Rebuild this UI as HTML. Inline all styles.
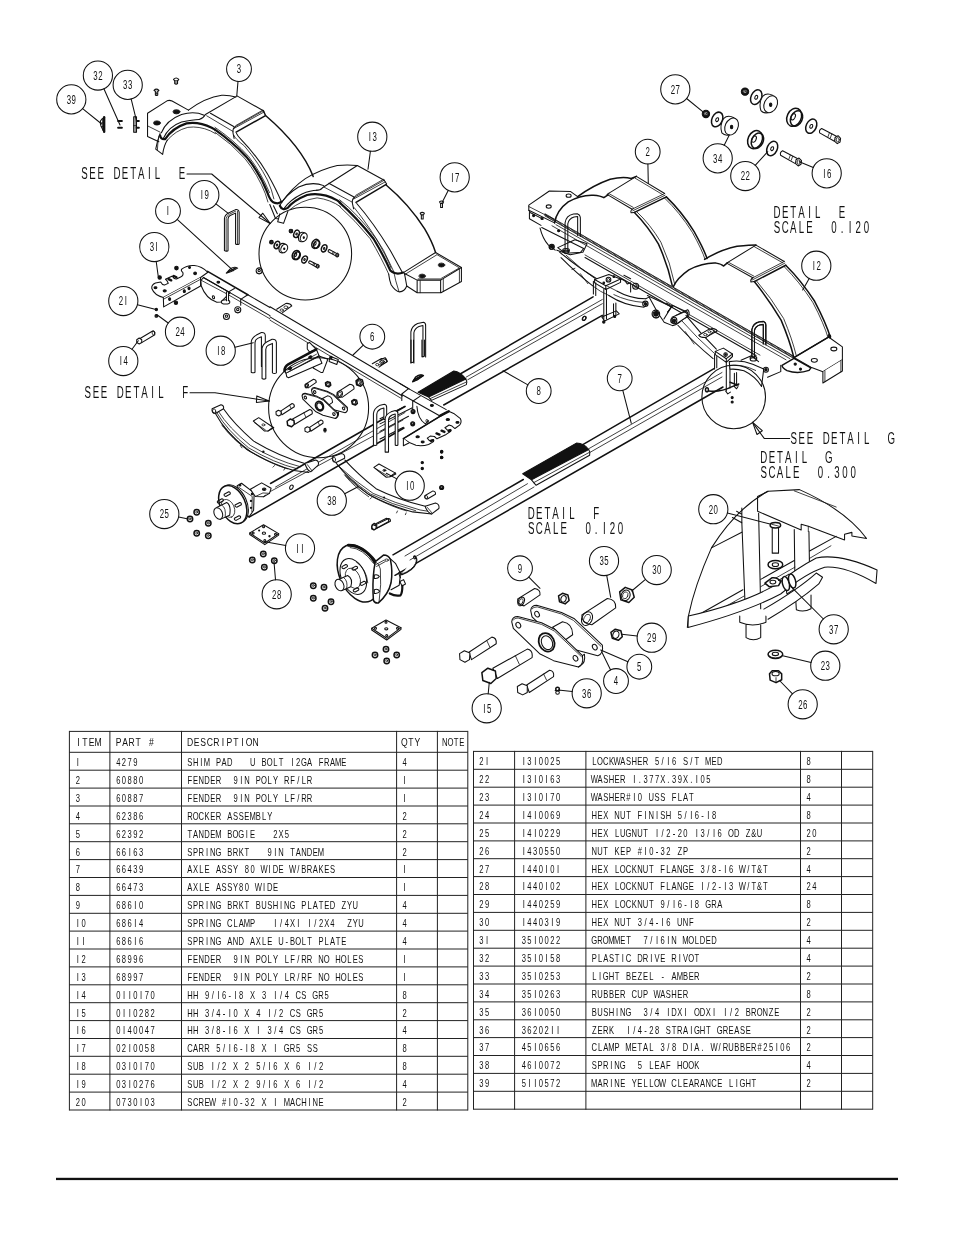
<!DOCTYPE html>
<html><head><meta charset="utf-8"><title>Tandem axle parts</title>
<style>
html,body{margin:0;padding:0;background:#fff}
body{width:954px;height:1235px;overflow:hidden}
svg{display:block;will-change:transform;font-family:"Liberation Sans",sans-serif}
svg text{text-anchor:middle}
.d path,.d circle,.d ellipse,.d line,.d polyline,.d polygon,.d rect{fill:none;stroke:#111;stroke-width:1.05;stroke-linejoin:round;stroke-linecap:round;vector-effect:non-scaling-stroke}
.d .w{fill:#fff}
.d .k{fill:#111}
.d .t{stroke-width:.8}
.d .b{stroke-width:1.5}
</style></head><body>
<svg width="954" height="1235" viewBox="0 0 954 1235">
<rect width="954" height="1235" fill="#fff"/>
<path d="M69.4 730.9L69.4 1110.5" stroke="#222" stroke-width="1.00"/>
<path d="M109.9 730.9L109.9 1110.5" stroke="#222" stroke-width="1.00"/>
<path d="M181.5 730.9L181.5 1110.5" stroke="#222" stroke-width="1.00"/>
<path d="M396.6 730.9L396.6 1110.5" stroke="#222" stroke-width="1.00"/>
<path d="M437.4 730.9L437.4 1110.5" stroke="#222" stroke-width="1.00"/>
<path d="M467.8 730.9L467.8 1110.5" stroke="#222" stroke-width="1.00"/>
<path d="M69.4 731.4L467.8 731.4" stroke="#222" stroke-width="1.00"/>
<path d="M69.4 752.3L467.8 752.3" stroke="#222" stroke-width="1.00"/>
<path d="M69.4 770.2L467.8 770.2" stroke="#222" stroke-width="1.00"/>
<path d="M69.4 788.1L467.8 788.1" stroke="#222" stroke-width="1.00"/>
<path d="M69.4 806.0L467.8 806.0" stroke="#222" stroke-width="1.00"/>
<path d="M69.4 823.8L467.8 823.8" stroke="#222" stroke-width="1.00"/>
<path d="M69.4 841.7L467.8 841.7" stroke="#222" stroke-width="1.00"/>
<path d="M69.4 859.6L467.8 859.6" stroke="#222" stroke-width="1.00"/>
<path d="M69.4 877.5L467.8 877.5" stroke="#222" stroke-width="1.00"/>
<path d="M69.4 895.4L467.8 895.4" stroke="#222" stroke-width="1.00"/>
<path d="M69.4 913.3L467.8 913.3" stroke="#222" stroke-width="1.00"/>
<path d="M69.4 931.1L467.8 931.1" stroke="#222" stroke-width="1.00"/>
<path d="M69.4 949.0L467.8 949.0" stroke="#222" stroke-width="1.00"/>
<path d="M69.4 966.9L467.8 966.9" stroke="#222" stroke-width="1.00"/>
<path d="M69.4 984.8L467.8 984.8" stroke="#222" stroke-width="1.00"/>
<path d="M69.4 1002.7L467.8 1002.7" stroke="#222" stroke-width="1.00"/>
<path d="M69.4 1020.6L467.8 1020.6" stroke="#222" stroke-width="1.00"/>
<path d="M69.4 1038.5L467.8 1038.5" stroke="#222" stroke-width="1.00"/>
<path d="M69.4 1056.3L467.8 1056.3" stroke="#222" stroke-width="1.00"/>
<path d="M69.4 1074.2L467.8 1074.2" stroke="#222" stroke-width="1.00"/>
<path d="M69.4 1092.1L467.8 1092.1" stroke="#222" stroke-width="1.00"/>
<path d="M69.4 1110.0L467.8 1110.0" stroke="#222" stroke-width="1.00"/>
<text transform="translate(0 746.3) scale(0.735 1)" font-size="11.7" x="106.7 115.6 124.5 133.4" fill="#111">ITEM</text>
<text transform="translate(0 746.3) scale(0.735 1)" font-size="11.7" x="161.4 170.3 179.2 188.1 205.9" fill="#111">PART#</text>
<text transform="translate(0 746.3) scale(0.735 1)" font-size="11.7" x="258.6 267.6 276.5 285.4 294.3 303.2 312.1 321.0 329.9 338.8 347.8" fill="#111">DESCRIPTION</text>
<text transform="translate(0 746.3) scale(0.735 1)" font-size="11.7" x="550.2 559.1 568.0" fill="#111">QTY</text>
<text transform="translate(0 746.3) scale(0.660 1)" font-size="11.7" x="674.1 682.7 691.2 699.8" fill="#111">NOTE</text>
<text transform="translate(0 766.1) scale(0.745 1)" font-size="10.2" x="104.4" fill="#111">I</text>
<text transform="translate(0 766.1) scale(0.745 1)" font-size="10.2" x="158.8 166.4 174.1 181.7" fill="#111">4279</text>
<text transform="translate(0 766.1) scale(0.745 1)" font-size="10.2" x="254.9 262.6 270.2 277.9 293.2 300.8 308.5 339.1 354.4 362.0 369.7 377.3 392.6 400.3 407.9 415.6 430.9 438.5 446.2 453.8 461.5" fill="#111">SHIMPADUBOLTI2GAFRAME</text>
<text transform="translate(0 766.1) scale(0.745 1)" font-size="10.2" x="543.1" fill="#111">4</text>
<text transform="translate(0 784.0) scale(0.745 1)" font-size="10.2" x="104.4" fill="#111">2</text>
<text transform="translate(0 784.0) scale(0.745 1)" font-size="10.2" x="158.8 166.4 174.1 181.7 189.4" fill="#111">60880</text>
<text transform="translate(0 784.0) scale(0.745 1)" font-size="10.2" x="254.9 262.6 270.2 277.9 285.5 293.2 316.1 323.8 331.4 346.7 354.4 362.0 369.7 385.0 392.6 400.3 407.9 415.6" fill="#111">FENDER9INPOLYRF/LR</text>
<text transform="translate(0 784.0) scale(0.745 1)" font-size="10.2" x="543.1" fill="#111">I</text>
<text transform="translate(0 801.9) scale(0.745 1)" font-size="10.2" x="104.4" fill="#111">3</text>
<text transform="translate(0 801.9) scale(0.745 1)" font-size="10.2" x="158.8 166.4 174.1 181.7 189.4" fill="#111">60887</text>
<text transform="translate(0 801.9) scale(0.745 1)" font-size="10.2" x="254.9 262.6 270.2 277.9 285.5 293.2 316.1 323.8 331.4 346.7 354.4 362.0 369.7 385.0 392.6 400.3 407.9 415.6" fill="#111">FENDER9INPOLYLF/RR</text>
<text transform="translate(0 801.9) scale(0.745 1)" font-size="10.2" x="543.1" fill="#111">I</text>
<text transform="translate(0 819.8) scale(0.745 1)" font-size="10.2" x="104.4" fill="#111">4</text>
<text transform="translate(0 819.8) scale(0.745 1)" font-size="10.2" x="158.8 166.4 174.1 181.7 189.4" fill="#111">62386</text>
<text transform="translate(0 819.8) scale(0.745 1)" font-size="10.2" x="254.9 262.6 270.2 277.9 285.5 293.2 308.5 316.1 323.8 331.4 339.1 346.7 354.4 362.0" fill="#111">ROCKERASSEMBLY</text>
<text transform="translate(0 819.8) scale(0.745 1)" font-size="10.2" x="543.1" fill="#111">2</text>
<text transform="translate(0 837.6) scale(0.745 1)" font-size="10.2" x="104.4" fill="#111">5</text>
<text transform="translate(0 837.6) scale(0.745 1)" font-size="10.2" x="158.8 166.4 174.1 181.7 189.4" fill="#111">62392</text>
<text transform="translate(0 837.6) scale(0.745 1)" font-size="10.2" x="254.9 262.6 270.2 277.9 285.5 293.2 308.5 316.1 323.8 331.4 339.1 369.7 377.3 385.0" fill="#111">TANDEMBOGIE2X5</text>
<text transform="translate(0 837.6) scale(0.745 1)" font-size="10.2" x="543.1" fill="#111">2</text>
<text transform="translate(0 855.5) scale(0.745 1)" font-size="10.2" x="104.4" fill="#111">6</text>
<text transform="translate(0 855.5) scale(0.745 1)" font-size="10.2" x="158.8 166.4 174.1 181.7 189.4" fill="#111">66I63</text>
<text transform="translate(0 855.5) scale(0.745 1)" font-size="10.2" x="254.9 262.6 270.2 277.9 285.5 293.2 308.5 316.1 323.8 331.4 362.0 369.7 377.3 392.6 400.3 407.9 415.6 423.2 430.9" fill="#111">SPRINGBRKT9INTANDEM</text>
<text transform="translate(0 855.5) scale(0.745 1)" font-size="10.2" x="543.1" fill="#111">2</text>
<text transform="translate(0 873.4) scale(0.745 1)" font-size="10.2" x="104.4" fill="#111">7</text>
<text transform="translate(0 873.4) scale(0.745 1)" font-size="10.2" x="158.8 166.4 174.1 181.7 189.4" fill="#111">66439</text>
<text transform="translate(0 873.4) scale(0.745 1)" font-size="10.2" x="254.9 262.6 270.2 277.9 293.2 300.8 308.5 316.1 331.4 339.1 354.4 362.0 369.7 377.3 392.6 400.3 407.9 415.6 423.2 430.9 438.5 446.2" fill="#111">AXLEASSY80WIDEW/BRAKES</text>
<text transform="translate(0 873.4) scale(0.745 1)" font-size="10.2" x="543.1" fill="#111">I</text>
<text transform="translate(0 891.3) scale(0.745 1)" font-size="10.2" x="104.4" fill="#111">8</text>
<text transform="translate(0 891.3) scale(0.745 1)" font-size="10.2" x="158.8 166.4 174.1 181.7 189.4" fill="#111">66473</text>
<text transform="translate(0 891.3) scale(0.745 1)" font-size="10.2" x="254.9 262.6 270.2 277.9 293.2 300.8 308.5 316.1 323.8 331.4 346.7 354.4 362.0 369.7" fill="#111">AXLEASSY80WIDE</text>
<text transform="translate(0 891.3) scale(0.745 1)" font-size="10.2" x="543.1" fill="#111">I</text>
<text transform="translate(0 909.2) scale(0.745 1)" font-size="10.2" x="104.4" fill="#111">9</text>
<text transform="translate(0 909.2) scale(0.745 1)" font-size="10.2" x="158.8 166.4 174.1 181.7 189.4" fill="#111">686I0</text>
<text transform="translate(0 909.2) scale(0.745 1)" font-size="10.2" x="254.9 262.6 270.2 277.9 285.5 293.2 308.5 316.1 323.8 331.4 346.7 354.4 362.0 369.7 377.3 385.0 392.6 407.9 415.6 423.2 430.9 438.5 446.2 461.5 469.1 476.8" fill="#111">SPRINGBRKTBUSHINGPLATEDZYU</text>
<text transform="translate(0 909.2) scale(0.745 1)" font-size="10.2" x="543.1" fill="#111">4</text>
<text transform="translate(0 927.1) scale(0.745 1)" font-size="10.2" x="104.4 112.1" fill="#111">I0</text>
<text transform="translate(0 927.1) scale(0.745 1)" font-size="10.2" x="158.8 166.4 174.1 181.7 189.4" fill="#111">686I4</text>
<text transform="translate(0 927.1) scale(0.745 1)" font-size="10.2" x="254.9 262.6 270.2 277.9 285.5 293.2 308.5 316.1 323.8 331.4 339.1 369.7 377.3 385.0 392.6 400.3 415.6 423.2 430.9 438.5 446.2 469.1 476.8 484.4" fill="#111">SPRINGCLAMPI/4XII/2X4ZYU</text>
<text transform="translate(0 927.1) scale(0.745 1)" font-size="10.2" x="543.1" fill="#111">4</text>
<text transform="translate(0 944.9) scale(0.745 1)" font-size="10.2" x="104.4 112.1" fill="#111">II</text>
<text transform="translate(0 944.9) scale(0.745 1)" font-size="10.2" x="158.8 166.4 174.1 181.7 189.4" fill="#111">686I6</text>
<text transform="translate(0 944.9) scale(0.745 1)" font-size="10.2" x="254.9 262.6 270.2 277.9 285.5 293.2 308.5 316.1 323.8 339.1 346.7 354.4 362.0 377.3 385.0 392.6 400.3 407.9 415.6 430.9 438.5 446.2 453.8 461.5" fill="#111">SPRINGANDAXLEU-BOLTPLATE</text>
<text transform="translate(0 944.9) scale(0.745 1)" font-size="10.2" x="543.1" fill="#111">4</text>
<text transform="translate(0 962.8) scale(0.745 1)" font-size="10.2" x="104.4 112.1" fill="#111">I2</text>
<text transform="translate(0 962.8) scale(0.745 1)" font-size="10.2" x="158.8 166.4 174.1 181.7 189.4" fill="#111">68996</text>
<text transform="translate(0 962.8) scale(0.745 1)" font-size="10.2" x="254.9 262.6 270.2 277.9 285.5 293.2 316.1 323.8 331.4 346.7 354.4 362.0 369.7 385.0 392.6 400.3 407.9 415.6 430.9 438.5 453.8 461.5 469.1 476.8 484.4" fill="#111">FENDER9INPOLYLF/RRNOHOLES</text>
<text transform="translate(0 962.8) scale(0.745 1)" font-size="10.2" x="543.1" fill="#111">I</text>
<text transform="translate(0 980.7) scale(0.745 1)" font-size="10.2" x="104.4 112.1" fill="#111">I3</text>
<text transform="translate(0 980.7) scale(0.745 1)" font-size="10.2" x="158.8 166.4 174.1 181.7 189.4" fill="#111">68997</text>
<text transform="translate(0 980.7) scale(0.745 1)" font-size="10.2" x="254.9 262.6 270.2 277.9 285.5 293.2 316.1 323.8 331.4 346.7 354.4 362.0 369.7 385.0 392.6 400.3 407.9 415.6 430.9 438.5 453.8 461.5 469.1 476.8 484.4" fill="#111">FENDER9INPOLYLR/RFNOHOLES</text>
<text transform="translate(0 980.7) scale(0.745 1)" font-size="10.2" x="543.1" fill="#111">I</text>
<text transform="translate(0 998.6) scale(0.745 1)" font-size="10.2" x="104.4 112.1" fill="#111">I4</text>
<text transform="translate(0 998.6) scale(0.745 1)" font-size="10.2" x="158.8 166.4 174.1 181.7 189.4 197.0 204.7" fill="#111">0II0I70</text>
<text transform="translate(0 998.6) scale(0.745 1)" font-size="10.2" x="254.9 262.6 277.9 285.5 293.2 300.8 308.5 316.1 323.8 339.1 354.4 369.7 377.3 385.0 400.3 407.9 423.2 430.9 438.5" fill="#111">HH9/I6-I8X3I/4CSGR5</text>
<text transform="translate(0 998.6) scale(0.745 1)" font-size="10.2" x="543.1" fill="#111">8</text>
<text transform="translate(0 1016.5) scale(0.745 1)" font-size="10.2" x="104.4 112.1" fill="#111">I5</text>
<text transform="translate(0 1016.5) scale(0.745 1)" font-size="10.2" x="158.8 166.4 174.1 181.7 189.4 197.0 204.7" fill="#111">0II0282</text>
<text transform="translate(0 1016.5) scale(0.745 1)" font-size="10.2" x="254.9 262.6 277.9 285.5 293.2 300.8 308.5 316.1 331.4 346.7 362.0 369.7 377.3 392.6 400.3 415.6 423.2 430.9" fill="#111">HH3/4-I0X4I/2CSGR5</text>
<text transform="translate(0 1016.5) scale(0.745 1)" font-size="10.2" x="543.1" fill="#111">2</text>
<text transform="translate(0 1034.4) scale(0.745 1)" font-size="10.2" x="104.4 112.1" fill="#111">I6</text>
<text transform="translate(0 1034.4) scale(0.745 1)" font-size="10.2" x="158.8 166.4 174.1 181.7 189.4 197.0 204.7" fill="#111">0I40047</text>
<text transform="translate(0 1034.4) scale(0.745 1)" font-size="10.2" x="254.9 262.6 277.9 285.5 293.2 300.8 308.5 316.1 331.4 346.7 362.0 369.7 377.3 392.6 400.3 415.6 423.2 430.9" fill="#111">HH3/8-I6XI3/4CSGR5</text>
<text transform="translate(0 1034.4) scale(0.745 1)" font-size="10.2" x="543.1" fill="#111">4</text>
<text transform="translate(0 1052.3) scale(0.745 1)" font-size="10.2" x="104.4 112.1" fill="#111">I7</text>
<text transform="translate(0 1052.3) scale(0.745 1)" font-size="10.2" x="158.8 166.4 174.1 181.7 189.4 197.0 204.7" fill="#111">02I0058</text>
<text transform="translate(0 1052.3) scale(0.745 1)" font-size="10.2" x="254.9 262.6 270.2 277.9 293.2 300.8 308.5 316.1 323.8 331.4 339.1 354.4 369.7 385.0 392.6 400.3 415.6 423.2" fill="#111">CARR5/I6-I8XIGR5SS</text>
<text transform="translate(0 1052.3) scale(0.745 1)" font-size="10.2" x="543.1" fill="#111">8</text>
<text transform="translate(0 1070.1) scale(0.745 1)" font-size="10.2" x="104.4 112.1" fill="#111">I8</text>
<text transform="translate(0 1070.1) scale(0.745 1)" font-size="10.2" x="158.8 166.4 174.1 181.7 189.4 197.0 204.7" fill="#111">03I0I70</text>
<text transform="translate(0 1070.1) scale(0.745 1)" font-size="10.2" x="254.9 262.6 270.2 285.5 293.2 300.8 316.1 331.4 346.7 354.4 362.0 369.7 385.0 400.3 415.6 423.2 430.9" fill="#111">SUBI/2X25/I6X6I/2</text>
<text transform="translate(0 1070.1) scale(0.745 1)" font-size="10.2" x="543.1" fill="#111">8</text>
<text transform="translate(0 1088.0) scale(0.745 1)" font-size="10.2" x="104.4 112.1" fill="#111">I9</text>
<text transform="translate(0 1088.0) scale(0.745 1)" font-size="10.2" x="158.8 166.4 174.1 181.7 189.4 197.0 204.7" fill="#111">03I0276</text>
<text transform="translate(0 1088.0) scale(0.745 1)" font-size="10.2" x="254.9 262.6 270.2 285.5 293.2 300.8 316.1 331.4 346.7 354.4 362.0 369.7 385.0 400.3 415.6 423.2 430.9" fill="#111">SUBI/2X29/I6X6I/2</text>
<text transform="translate(0 1088.0) scale(0.745 1)" font-size="10.2" x="543.1" fill="#111">4</text>
<text transform="translate(0 1105.9) scale(0.745 1)" font-size="10.2" x="104.4 112.1" fill="#111">20</text>
<text transform="translate(0 1105.9) scale(0.745 1)" font-size="10.2" x="158.8 166.4 174.1 181.7 189.4 197.0 204.7" fill="#111">0730I03</text>
<text transform="translate(0 1105.9) scale(0.745 1)" font-size="10.2" x="254.9 262.6 270.2 277.9 285.5 300.8 308.5 316.1 323.8 331.4 339.1 354.4 369.7 385.0 392.6 400.3 407.9 415.6 423.2 430.9" fill="#111">SCREW#I0-32XIMACHINE</text>
<text transform="translate(0 1105.9) scale(0.745 1)" font-size="10.2" x="543.1" fill="#111">2</text>
<path d="M473.5 750.9L473.5 1109.7" stroke="#222" stroke-width="1.00"/>
<path d="M514.6 750.9L514.6 1109.7" stroke="#222" stroke-width="1.00"/>
<path d="M585.9 750.9L585.9 1109.7" stroke="#222" stroke-width="1.00"/>
<path d="M800.5 750.9L800.5 1109.7" stroke="#222" stroke-width="1.00"/>
<path d="M841.5 750.9L841.5 1109.7" stroke="#222" stroke-width="1.00"/>
<path d="M872.7 750.9L872.7 1109.7" stroke="#222" stroke-width="1.00"/>
<path d="M473.5 751.4L872.7 751.4" stroke="#222" stroke-width="1.00"/>
<path d="M473.5 769.3L872.7 769.3" stroke="#222" stroke-width="1.00"/>
<path d="M473.5 787.2L872.7 787.2" stroke="#222" stroke-width="1.00"/>
<path d="M473.5 805.1L872.7 805.1" stroke="#222" stroke-width="1.00"/>
<path d="M473.5 823.0L872.7 823.0" stroke="#222" stroke-width="1.00"/>
<path d="M473.5 840.9L872.7 840.9" stroke="#222" stroke-width="1.00"/>
<path d="M473.5 858.7L872.7 858.7" stroke="#222" stroke-width="1.00"/>
<path d="M473.5 876.6L872.7 876.6" stroke="#222" stroke-width="1.00"/>
<path d="M473.5 894.5L872.7 894.5" stroke="#222" stroke-width="1.00"/>
<path d="M473.5 912.4L872.7 912.4" stroke="#222" stroke-width="1.00"/>
<path d="M473.5 930.3L872.7 930.3" stroke="#222" stroke-width="1.00"/>
<path d="M473.5 948.2L872.7 948.2" stroke="#222" stroke-width="1.00"/>
<path d="M473.5 966.1L872.7 966.1" stroke="#222" stroke-width="1.00"/>
<path d="M473.5 984.0L872.7 984.0" stroke="#222" stroke-width="1.00"/>
<path d="M473.5 1001.9L872.7 1001.9" stroke="#222" stroke-width="1.00"/>
<path d="M473.5 1019.8L872.7 1019.8" stroke="#222" stroke-width="1.00"/>
<path d="M473.5 1037.6L872.7 1037.6" stroke="#222" stroke-width="1.00"/>
<path d="M473.5 1055.5L872.7 1055.5" stroke="#222" stroke-width="1.00"/>
<path d="M473.5 1073.4L872.7 1073.4" stroke="#222" stroke-width="1.00"/>
<path d="M473.5 1091.3L872.7 1091.3" stroke="#222" stroke-width="1.00"/>
<path d="M473.5 1109.2L872.7 1109.2" stroke="#222" stroke-width="1.00"/>
<text transform="translate(0 765.2) scale(0.745 1)" font-size="10.2" x="646.0 653.7" fill="#111">2I</text>
<text transform="translate(0 765.2) scale(0.745 1)" font-size="10.2" x="703.1 710.7 718.4 726.0 733.7 741.3 749.0" fill="#111">I3I0025</text>
<text transform="translate(0 765.2) scale(0.745 1)" font-size="10.2" x="797.7 805.4 813.0 820.7 828.3 836.0 843.6 851.3 858.9 866.6 881.9 889.5 897.2 904.8 920.1 927.8 935.4 950.7 958.4 966.0" fill="#111">LOCKWASHER5/I6S/TMED</text>
<text transform="translate(0 765.2) scale(0.745 1)" font-size="10.2" x="1085.4" fill="#111">8</text>
<text transform="translate(0 783.1) scale(0.745 1)" font-size="10.2" x="646.0 653.7" fill="#111">22</text>
<text transform="translate(0 783.1) scale(0.745 1)" font-size="10.2" x="703.1 710.7 718.4 726.0 733.7 741.3 749.0" fill="#111">I3I0I63</text>
<text transform="translate(0 783.1) scale(0.745 1)" font-size="10.2" x="797.7 805.4 813.0 820.7 828.3 836.0 851.3 858.9 866.6 874.2 881.9 889.5 897.2 904.8 912.5 920.1 927.8 935.4 943.1 950.7" fill="#111">WASHERI.377X.39X.I05</text>
<text transform="translate(0 783.1) scale(0.745 1)" font-size="10.2" x="1085.4" fill="#111">8</text>
<text transform="translate(0 801.0) scale(0.745 1)" font-size="10.2" x="646.0 653.7" fill="#111">23</text>
<text transform="translate(0 801.0) scale(0.745 1)" font-size="10.2" x="703.1 710.7 718.4 726.0 733.7 741.3 749.0" fill="#111">I3I0I70</text>
<text transform="translate(0 801.0) scale(0.745 1)" font-size="10.2" x="797.7 805.4 813.0 820.7 828.3 836.0 843.6 851.3 858.9 874.2 881.9 889.5 904.8 912.5 920.1 927.8" fill="#111">WASHER#I0USSFLAT</text>
<text transform="translate(0 801.0) scale(0.745 1)" font-size="10.2" x="1085.4" fill="#111">4</text>
<text transform="translate(0 818.9) scale(0.745 1)" font-size="10.2" x="646.0 653.7" fill="#111">24</text>
<text transform="translate(0 818.9) scale(0.745 1)" font-size="10.2" x="703.1 710.7 718.4 726.0 733.7 741.3 749.0" fill="#111">I4I0069</text>
<text transform="translate(0 818.9) scale(0.745 1)" font-size="10.2" x="797.7 805.4 813.0 828.3 836.0 843.6 858.9 866.6 874.2 881.9 889.5 897.2 912.5 920.1 927.8 935.4 943.1 950.7 958.4" fill="#111">HEXNUTFINISH5/I6-I8</text>
<text transform="translate(0 818.9) scale(0.745 1)" font-size="10.2" x="1085.4" fill="#111">8</text>
<text transform="translate(0 836.8) scale(0.745 1)" font-size="10.2" x="646.0 653.7" fill="#111">25</text>
<text transform="translate(0 836.8) scale(0.745 1)" font-size="10.2" x="703.1 710.7 718.4 726.0 733.7 741.3 749.0" fill="#111">I4I0229</text>
<text transform="translate(0 836.8) scale(0.745 1)" font-size="10.2" x="797.7 805.4 813.0 828.3 836.0 843.6 851.3 858.9 866.6 881.9 889.5 897.2 904.8 912.5 920.1 935.4 943.1 950.7 958.4 966.0 981.3 989.0 1004.3 1011.9 1019.6" fill="#111">HEXLUGNUTI/2-20I3/I6ODZ&amp;U</text>
<text transform="translate(0 836.8) scale(0.745 1)" font-size="10.2" x="1085.4 1093.0" fill="#111">20</text>
<text transform="translate(0 854.6) scale(0.745 1)" font-size="10.2" x="646.0 653.7" fill="#111">26</text>
<text transform="translate(0 854.6) scale(0.745 1)" font-size="10.2" x="703.1 710.7 718.4 726.0 733.7 741.3 749.0" fill="#111">I430550</text>
<text transform="translate(0 854.6) scale(0.745 1)" font-size="10.2" x="797.7 805.4 813.0 828.3 836.0 843.6 858.9 866.6 874.2 881.9 889.5 897.2 912.5 920.1" fill="#111">NUTKEP#I0-32ZP</text>
<text transform="translate(0 854.6) scale(0.745 1)" font-size="10.2" x="1085.4" fill="#111">2</text>
<text transform="translate(0 872.5) scale(0.745 1)" font-size="10.2" x="646.0 653.7" fill="#111">27</text>
<text transform="translate(0 872.5) scale(0.745 1)" font-size="10.2" x="703.1 710.7 718.4 726.0 733.7 741.3 749.0" fill="#111">I440I0I</text>
<text transform="translate(0 872.5) scale(0.745 1)" font-size="10.2" x="797.7 805.4 813.0 828.3 836.0 843.6 851.3 858.9 866.6 874.2 889.5 897.2 904.8 912.5 920.1 927.8 943.1 950.7 958.4 966.0 973.7 981.3 996.6 1004.3 1011.9 1019.6 1027.2" fill="#111">HEXLOCKNUTFLANGE3/8-I6W/T&amp;T</text>
<text transform="translate(0 872.5) scale(0.745 1)" font-size="10.2" x="1085.4" fill="#111">4</text>
<text transform="translate(0 890.4) scale(0.745 1)" font-size="10.2" x="646.0 653.7" fill="#111">28</text>
<text transform="translate(0 890.4) scale(0.745 1)" font-size="10.2" x="703.1 710.7 718.4 726.0 733.7 741.3 749.0" fill="#111">I440I02</text>
<text transform="translate(0 890.4) scale(0.745 1)" font-size="10.2" x="797.7 805.4 813.0 828.3 836.0 843.6 851.3 858.9 866.6 874.2 889.5 897.2 904.8 912.5 920.1 927.8 943.1 950.7 958.4 966.0 973.7 981.3 996.6 1004.3 1011.9 1019.6 1027.2" fill="#111">HEXLOCKNUTFLANGEI/2-I3W/T&amp;T</text>
<text transform="translate(0 890.4) scale(0.745 1)" font-size="10.2" x="1085.4 1093.0" fill="#111">24</text>
<text transform="translate(0 908.3) scale(0.745 1)" font-size="10.2" x="646.0 653.7" fill="#111">29</text>
<text transform="translate(0 908.3) scale(0.745 1)" font-size="10.2" x="703.1 710.7 718.4 726.0 733.7 741.3 749.0" fill="#111">I440259</text>
<text transform="translate(0 908.3) scale(0.745 1)" font-size="10.2" x="797.7 805.4 813.0 828.3 836.0 843.6 851.3 858.9 866.6 874.2 889.5 897.2 904.8 912.5 920.1 927.8 935.4 950.7 958.4 966.0" fill="#111">HEXLOCKNUT9/I6-I8GRA</text>
<text transform="translate(0 908.3) scale(0.745 1)" font-size="10.2" x="1085.4" fill="#111">8</text>
<text transform="translate(0 926.2) scale(0.745 1)" font-size="10.2" x="646.0 653.7" fill="#111">30</text>
<text transform="translate(0 926.2) scale(0.745 1)" font-size="10.2" x="703.1 710.7 718.4 726.0 733.7 741.3 749.0" fill="#111">I4403I9</text>
<text transform="translate(0 926.2) scale(0.745 1)" font-size="10.2" x="797.7 805.4 813.0 828.3 836.0 843.6 858.9 866.6 874.2 881.9 889.5 897.2 912.5 920.1 927.8" fill="#111">HEXNUT3/4-I6UNF</text>
<text transform="translate(0 926.2) scale(0.745 1)" font-size="10.2" x="1085.4" fill="#111">2</text>
<text transform="translate(0 944.1) scale(0.745 1)" font-size="10.2" x="646.0 653.7" fill="#111">3I</text>
<text transform="translate(0 944.1) scale(0.745 1)" font-size="10.2" x="703.1 710.7 718.4 726.0 733.7 741.3 749.0" fill="#111">35I0022</text>
<text transform="translate(0 944.1) scale(0.745 1)" font-size="10.2" x="797.7 805.4 813.0 820.7 828.3 836.0 843.6 866.6 874.2 881.9 889.5 897.2 904.8 920.1 927.8 935.4 943.1 950.7 958.4" fill="#111">GROMMET7/I6INMOLDED</text>
<text transform="translate(0 944.1) scale(0.745 1)" font-size="10.2" x="1085.4" fill="#111">4</text>
<text transform="translate(0 962.0) scale(0.745 1)" font-size="10.2" x="646.0 653.7" fill="#111">32</text>
<text transform="translate(0 962.0) scale(0.745 1)" font-size="10.2" x="703.1 710.7 718.4 726.0 733.7 741.3 749.0" fill="#111">35I0I58</text>
<text transform="translate(0 962.0) scale(0.745 1)" font-size="10.2" x="797.7 805.4 813.0 820.7 828.3 836.0 843.6 858.9 866.6 874.2 881.9 889.5 904.8 912.5 920.1 927.8 935.4" fill="#111">PLASTICDRIVERIVOT</text>
<text transform="translate(0 962.0) scale(0.745 1)" font-size="10.2" x="1085.4" fill="#111">4</text>
<text transform="translate(0 979.9) scale(0.745 1)" font-size="10.2" x="646.0 653.7" fill="#111">33</text>
<text transform="translate(0 979.9) scale(0.745 1)" font-size="10.2" x="703.1 710.7 718.4 726.0 733.7 741.3 749.0" fill="#111">35I0253</text>
<text transform="translate(0 979.9) scale(0.745 1)" font-size="10.2" x="797.7 805.4 813.0 820.7 828.3 843.6 851.3 858.9 866.6 874.2 889.5 904.8 912.5 920.1 927.8 935.4" fill="#111">LIGHTBEZEL-AMBER</text>
<text transform="translate(0 979.9) scale(0.745 1)" font-size="10.2" x="1085.4" fill="#111">2</text>
<text transform="translate(0 997.8) scale(0.745 1)" font-size="10.2" x="646.0 653.7" fill="#111">34</text>
<text transform="translate(0 997.8) scale(0.745 1)" font-size="10.2" x="703.1 710.7 718.4 726.0 733.7 741.3 749.0" fill="#111">35I0263</text>
<text transform="translate(0 997.8) scale(0.745 1)" font-size="10.2" x="797.7 805.4 813.0 820.7 828.3 836.0 851.3 858.9 866.6 881.9 889.5 897.2 904.8 912.5 920.1" fill="#111">RUBBERCUPWASHER</text>
<text transform="translate(0 997.8) scale(0.745 1)" font-size="10.2" x="1085.4" fill="#111">8</text>
<text transform="translate(0 1015.7) scale(0.745 1)" font-size="10.2" x="646.0 653.7" fill="#111">35</text>
<text transform="translate(0 1015.7) scale(0.745 1)" font-size="10.2" x="703.1 710.7 718.4 726.0 733.7 741.3 749.0" fill="#111">36I0050</text>
<text transform="translate(0 1015.7) scale(0.745 1)" font-size="10.2" x="797.7 805.4 813.0 820.7 828.3 836.0 843.6 866.6 874.2 881.9 897.2 904.8 912.5 920.1 935.4 943.1 950.7 958.4 973.7 981.3 989.0 1004.3 1011.9 1019.6 1027.2 1034.9 1042.6" fill="#111">BUSHING3/4IDXIODXII/2BRONZE</text>
<text transform="translate(0 1015.7) scale(0.745 1)" font-size="10.2" x="1085.4" fill="#111">2</text>
<text transform="translate(0 1033.5) scale(0.745 1)" font-size="10.2" x="646.0 653.7" fill="#111">36</text>
<text transform="translate(0 1033.5) scale(0.745 1)" font-size="10.2" x="703.1 710.7 718.4 726.0 733.7 741.3 749.0" fill="#111">36202II</text>
<text transform="translate(0 1033.5) scale(0.745 1)" font-size="10.2" x="797.7 805.4 813.0 820.7 843.6 851.3 858.9 866.6 874.2 881.9 897.2 904.8 912.5 920.1 927.8 935.4 943.1 950.7 966.0 973.7 981.3 989.0 996.6 1004.3" fill="#111">ZERKI/4-28STRAIGHTGREASE</text>
<text transform="translate(0 1033.5) scale(0.745 1)" font-size="10.2" x="1085.4" fill="#111">2</text>
<text transform="translate(0 1051.4) scale(0.745 1)" font-size="10.2" x="646.0 653.7" fill="#111">37</text>
<text transform="translate(0 1051.4) scale(0.745 1)" font-size="10.2" x="703.1 710.7 718.4 726.0 733.7 741.3 749.0" fill="#111">45I0656</text>
<text transform="translate(0 1051.4) scale(0.745 1)" font-size="10.2" x="797.7 805.4 813.0 820.7 828.3 843.6 851.3 858.9 866.6 874.2 889.5 897.2 904.8 920.1 927.8 935.4 943.1 958.4 966.0 973.7 981.3 989.0 996.6 1004.3 1011.9 1019.6 1027.2 1034.9 1042.6 1050.2 1057.9" fill="#111">CLAMPMETAL3/8DIA.W/RUBBER#25I06</text>
<text transform="translate(0 1051.4) scale(0.745 1)" font-size="10.2" x="1085.4" fill="#111">2</text>
<text transform="translate(0 1069.3) scale(0.745 1)" font-size="10.2" x="646.0 653.7" fill="#111">38</text>
<text transform="translate(0 1069.3) scale(0.745 1)" font-size="10.2" x="703.1 710.7 718.4 726.0 733.7 741.3 749.0" fill="#111">46I0072</text>
<text transform="translate(0 1069.3) scale(0.745 1)" font-size="10.2" x="797.7 805.4 813.0 820.7 828.3 836.0 858.9 874.2 881.9 889.5 897.2 912.5 920.1 927.8 935.4" fill="#111">SPRING5LEAFHOOK</text>
<text transform="translate(0 1069.3) scale(0.745 1)" font-size="10.2" x="1085.4" fill="#111">4</text>
<text transform="translate(0 1087.2) scale(0.745 1)" font-size="10.2" x="646.0 653.7" fill="#111">39</text>
<text transform="translate(0 1087.2) scale(0.745 1)" font-size="10.2" x="703.1 710.7 718.4 726.0 733.7 741.3 749.0" fill="#111">5II0572</text>
<text transform="translate(0 1087.2) scale(0.745 1)" font-size="10.2" x="797.7 805.4 813.0 820.7 828.3 836.0 851.3 858.9 866.6 874.2 881.9 889.5 904.8 912.5 920.1 927.8 935.4 943.1 950.7 958.4 966.0 981.3 989.0 996.6 1004.3 1011.9" fill="#111">MARINEYELLOWCLEARANCELIGHT</text>
<text transform="translate(0 1087.2) scale(0.745 1)" font-size="10.2" x="1085.4" fill="#111">2</text>
<rect x="56" y="1177.8" width="842" height="2.3" fill="#111"/>
<!-- 20_fender_left.svg -->
<g class="d" id="fender3">
<!-- view A: offset 140,90 scale 7.95 -->
<g transform="translate(140 90) scale(.12579)">
<path d="M385 160L255 88Q235 78 215 86L60 185V370L150 412"/>
<path class="t" d="M60 285L160 335"/>
<ellipse class="k" cx="290" cy="173" rx="22" ry="12"/><ellipse cx="290" cy="173" rx="28" ry="17" class="t"/>
<ellipse class="k" cx="135" cy="262" rx="22" ry="12"/><ellipse cx="135" cy="262" rx="28" ry="17" class="t"/>
<path d="M160 345Q135 410 125 470L180 512Q190 440 218 398"/>
<path class="t" d="M150 365Q140 420 138 478"/>
<path d="M385 160Q520 60 650 42Q710 40 760 55"/>
<path d="M760 55L520 195Q505 225 470 235"/>
<path d="M170 340Q210 240 330 195Q430 165 510 200"/>
<path d="M185 385Q230 290 330 255Q420 235 470 235"/>
<path class="b" style="stroke-width:2.2" d="M160 360Q165 395 200 390Q260 300 370 265Q470 250 570 300L596 315"/>
<path class="t" d="M215 402Q280 322 380 297Q470 285 560 325L600 347"/>
<path class="t" d="M530 205L740 330"/>
<path d="M560 185L745 290"/>
</g>
<!-- view B: offset 220,90 scale 7.95 -->
<g transform="translate(220 90) scale(.12579)">
<path d="M135 47L345 165"/>
<path class="t" d="M345 165L120 292M350 175L112 305M340 160L125 283"/>
<path class="b" d="M362 203L128 335"/>
<path d="M120 292Q100 305 103 340L112 385"/>
<path class="b" d="M345 165L362 203Q648 448 741 688"/>
</g>
<!-- view C: offset 250,140 scale 5.9625 -->
<g transform="translate(250 140) scale(.16771)">
<path d="M118 385L152 468L165 470M140 392L163 440"/>
<path d="M190 370Q250 285 330 230Q420 175 520 152Q580 145 640 152"/>
<path d="M640 152L800 240M640 152L432 285Q420 300 395 300"/>
<path class="t" d="M800 240L625 340M806 250L618 352M795 235L630 330"/>
<path class="b" d="M812 265L632 372"/>
<path d="M625 340Q608 350 610 375L618 410"/>
<path d="M470 258L620 340"/><path class="t" d="M440 280L612 372"/>
<path d="M176 392Q215 325 290 280Q370 245 440 272"/>
<path d="M200 412Q240 355 310 322Q360 300 400 300"/>
<path style="stroke-width:2.2" d="M178 392Q192 425 225 405Q260 360 340 328Q430 310 520 360L538 374"/>
<path class="t" d="M238 415Q300 360 400 345Q480 355 540 398"/>
<path d="M800 240L815 262"/>
<path d="M178 440L165 488L200 497L226 425"/>
</g>
<!-- view D: offset 215,115 scale 9.54 -->
<g transform="translate(215 115) scale(.10482)">
<path d="M205 175Q215 200 250 235Q400 390 500 560Q590 720 632 825"/>
<path class="t" d="M180 195Q190 225 280 295Q420 460 500 620Q545 720 562 800"/>
<path style="stroke-width:2.2" d="M0 140Q170 260 300 400Q430 560 500 740Q530 830 570 838Q610 850 632 828"/>
<path class="t" d="M0 118Q180 240 320 395Q440 550 520 740"/>
<path class="t" d="M0 165Q160 275 285 415Q410 570 480 750L505 830"/>
</g>
<!-- view E: offset 340,180 scale 5.9625 -->
<g transform="translate(340 180) scale(.16771)">
<path class="b" d="M275 30Q412 145 505 292Q548 365 570 432"/>
<path d="M100 140Q200 255 300 420L372 552"/>
<path class="t" d="M85 165Q170 270 260 420L320 545"/>
<path style="stroke-width:2.2" d="M-2 135Q100 225 200 350Q260 450 300 540Q330 568 378 552"/>
<path class="t" d="M-2 118Q110 205 215 350Q275 450 305 525"/>
<path class="t" d="M-2 158Q90 240 180 350Q250 470 290 560"/>
<path d="M378 552L570 432L724 522L600 597H460L385 558"/>
<path class="t" d="M384 565L576 447M578 445L712 524L598 590H466"/>
<path d="M724 522V605L602 672H460L398 632M600 597V672M460 600V672"/>
<path class="t" d="M616 590V664M478 600V672M712 532V610"/>
<ellipse class="k" cx="605" cy="507" rx="14" ry="8"/><ellipse class="t" cx="605" cy="507" rx="20" ry="12"/>
<ellipse class="k" cx="490" cy="573" rx="14" ry="8"/><ellipse class="t" cx="490" cy="573" rx="20" ry="12"/>
<path d="M290 560Q295 600 305 625Q330 665 355 667Q385 665 398 632L385 560"/>
<path class="t" d="M320 545Q330 600 350 660"/>
<path d="M478 198Q490 188 503 198L498 208H484ZM485 208V232H496V208"/>
<path d="M593 130Q605 120 618 130L613 140H599ZM600 140V164H611V140"/>
</g>
</g>
<!-- 30_rail_left.svg -->
<g class="d" id="rail-left">
<!-- view F: offset 130,250 scale 5.9625 -->
<g transform="translate(130 250) scale(.16771)">
<!-- shim 1 -->
<path d="M574 138L598 112Q622 96 642 108L604 128Z"/><path class="b" d="M588 128L628 108"/>
<!-- 21, 24 dots -->
<circle class="k" cx="157" cy="355" r="7"/><circle class="k" cx="157" cy="393" r="8"/><circle cx="157" cy="393" r="3" class="w t"/>
<!-- bolt 14 -->
<path d="M60 528L135 483Q148 482 148 505L70 552"/><path d="M40 535L55 525L70 535V552L55 560L40 552Z"/>
<ellipse cx="140" cy="494" rx="8" ry="12" class="t"/>
<!-- u-bolts 18 -->
</g>
<!-- view G: offset 270,290 scale 5.9625 -->
<g transform="translate(270 290) scale(.16771)">
<path d="M0 100L830 590"/>
<path d="M0 160L790 632"/>
<path class="t" d="M0 180L780 645"/>
<path d="M40 115L95 80Q120 78 130 95L75 135"/><ellipse cx="95" cy="103" rx="12" ry="8" class="t"/><ellipse cx="70" cy="120" rx="10" ry="7" class="t"/>
<path d="M610 440L665 408Q690 408 700 425L650 460"/><ellipse cx="665" cy="430" rx="12" ry="8" class="t"/><ellipse cx="640" cy="445" rx="10" ry="7" class="t"/>
<!-- right u-bolt 19 -->
<path d="M840 435V250Q845 215 880 200L915 192Q930 195 928 215V400M858 435V255Q862 230 888 218L912 212V400"/>
<!-- shim -->
<path d="M850 548L870 520Q895 500 915 510L880 535Z"/><path class="b" d="M862 535L902 512"/>
<!-- left ubolt leg seen in G -->
</g>
<!-- bracket 6: offset 275,335 scale 13.63 -->
<g transform="translate(275 335) scale(.07337)">
<path class="w" d="M440 120V190L470 232L565 198L470 100Z"/>
<path class="w" d="M600 285L720 330L652 510H625L520 450Z"/>
<path class="w" d="M150 520L160 570L185 582L640 385L600 290Z"/>
<path class="w" d="M130 490L150 520L600 282L565 198L180 400Q135 430 130 490Z"/>
<path style="stroke-width:2.6" d="M130 490Q130 430 180 400L562 196"/>
<path class="t" d="M165 478L565 262"/>
<ellipse class="k" cx="205" cy="458" rx="22" ry="14" transform="rotate(-28 205 458)"/><ellipse class="k" cx="480" cy="300" rx="22" ry="14" transform="rotate(-28 480 300)"/>
<path class="w" d="M750 290L862 335L842 402L738 360Z"/><circle class="k" cx="765" cy="305" r="14"/>
</g>
<!-- bracket 31: offset 145,255 scale 9.54 -->
<g transform="translate(145 255) scale(.10482)">
<path class="w" d="M65 320Q60 285 100 268L150 258Q165 290 190 285L222 270Q210 240 195 232L262 200Q275 230 300 228L340 210Q372 195 360 165Q340 150 350 135Q400 95 470 100Q540 105 600 165L530 215L175 405Q90 385 65 320Z"/>
<path class="w" d="M175 405L178 495L530 295V215"/>
<path class="t" d="M180 420L530 232"/>
<path style="stroke-width:2.4" d="M225 230L250 242M275 200L300 212"/>
<circle class="k" cx="300" cy="125" r="17"/><circle class="k" cx="140" cy="215" r="16"/><circle class="k" cx="425" cy="120" r="9"/><circle class="k" cx="478" cy="175" r="13"/>
<ellipse class="k" cx="100" cy="312" rx="14" ry="9"/><ellipse class="k" cx="188" cy="342" rx="15" ry="10"/>
<ellipse class="k" cx="235" cy="420" rx="10" ry="13"/><circle class="k" cx="295" cy="455" r="16"/><ellipse class="k" cx="375" cy="345" rx="10" ry="13"/><ellipse class="k" cx="420" cy="318" rx="10" ry="13"/>
</g>
<!-- rail left section: offset 195,265 scale 11.925 -->
<g transform="translate(195 265) scale(.08386)">
<path class="w" d="M70 185L75 250Q130 400 260 445L310 440L420 330L100 150Z"/>
<path class="b" d="M150 75L630 355"/><path d="M630 355L894 507.7"/>
<path d="M100 150L400 320L894 604.2"/><path class="t" d="M70 180L380 345L894 641.6"/>
<path d="M470 280L400 320M630 355L545 410V480"/>
<ellipse cx="220" cy="385" rx="12" ry="18" transform="rotate(-20 220 385)"/><ellipse class="k" cx="278" cy="205" rx="16" ry="11"/>
<ellipse class="w" cx="365" cy="440" rx="50" ry="25"/><path class="w" d="M375 425V320H400V425"/>
<g class="k"><circle cx="510" cy="535" r="36"/><circle cx="375" cy="615" r="36"/><circle cx="765" cy="70" r="36"/></g>
<g class="w"><circle cx="510" cy="530" r="14"/><circle cx="375" cy="610" r="14"/><circle cx="765" cy="66" r="14"/></g>
</g>
</g>
<!-- 31_rail_left_end.svg -->
<g class="d" id="rail-left-end">
<!-- view H: offset 380,340 scale 5.9625 -->
<g transform="translate(380 340) scale(.16771)">
<path d="M120 260L170 290L395 415"/>
<path d="M130 325L355 452"/>
<path d="M170 290L130 322V360M240 335L195 365V420"/>
<path d="M220 395Q225 470 270 500L290 482"/><ellipse cx="280" cy="482" rx="6" ry="9" class="t"/>
<circle class="k" cx="197" cy="427" r="12"/><circle class="w t" cx="197" cy="424" r="5"/>
<circle class="k" cx="195" cy="500" r="12"/><circle class="w t" cx="195" cy="497" r="5"/>
<circle class="k" cx="368" cy="665" r="7"/><circle class="k" cx="368" cy="700" r="7"/>
<!-- black tread -->
<path class="k" d="M227 312L440 185Q480 190 512 232L290 340Z"/><path class="w" d="M290 340L307 360L515 266Q522 250 512 232Z"/>
<path class="t" d="M298 350L516 250"/>

<!-- left u-bolts -->
<!-- axle continuing lower-left -->
<path d="M0 470L150 395M0 500L190 405M0 545L170 455M0 590L140 520"/>
<!-- top-left bits -->
<path d="M185 0V135L200 132V0M250 0V100L265 97V0"/>
<path d="M195 248L212 220Q238 200 260 212L225 235Z"/><path class="b" d="M205 238L250 212"/>
<path d="M0 118L30 105Q45 120 40 132L0 150"/><ellipse cx="15" cy="128" rx="12" ry="8" class="t"/>
</g>
<!-- end bracket: offset 395,395 scale 11.925 -->
<g transform="translate(395 395) scale(.08386)">
<path class="w" d="M100 520L600 215L640 195L700 220L780 282Q800 320 770 360L715 400L680 370L645 358L595 390L625 420L660 410L665 432L610 470L500 522L470 495L420 490L385 515L410 545L455 530L460 556L400 590Q330 612 250 600Q170 575 100 520Z"/>
<path class="w" d="M100 520V605L165 572"/>
<path class="b" d="M100 520L600 215"/><path style="stroke-width:2.6" d="M540 247L640 196"/>
<ellipse class="k" cx="630" cy="293" rx="20" ry="12"/><ellipse class="k" cx="745" cy="327" rx="18" ry="11"/><ellipse class="k" cx="270" cy="498" rx="20" ry="12"/><ellipse class="k" cx="330" cy="560" rx="18" ry="11"/><ellipse class="k" cx="440" cy="125" rx="18" ry="11"/>
<path style="stroke-width:2.4" d="M640 430L662 420M555 425L590 440M495 458L530 472M430 548L455 540"/>
</g>
</g>
<!-- 35_small_left.svg -->
<g class="d" id="small-left">
<!-- view: offset 95,70 scale 10.6 -->
<g transform="translate(95 70) scale(.09434)">
<path class="w" d="M58 540Q50 600 98 650V505Q70 512 58 540Z"/><path style="stroke-width:2.4" d="M97 500V655"/><path class="t" d="M62 560H95M66 600H95M80 520V640"/>
<path style="stroke-width:2" d="M245 540H285M245 612H285"/>
<path class="w" d="M410 495H440V660H410Z"/><path style="stroke-width:2" d="M442 540H465M442 612H465"/><path class="t" d="M425 495V660M410 590H440"/>
<path class="w" d="M625 215Q650 190 678 215L666 226H640Z"/><path class="w" d="M640 226V265Q652 275 665 265V226"/><ellipse cx="652" cy="248" rx="6" ry="10" class="t"/>
<path class="w" d="M832 100Q860 70 888 100L876 115H845Z"/><path d="M845 115V145Q860 158 875 145V115" fill="#999" style="fill:#999"/>
</g>
<!-- u-bolt 19: offset 195,195 scale 10.6 -->
<g transform="translate(195 195) scale(.09434)">
<path class="w" d="M312 590V250Q315 210 355 190L430 155Q465 150 468 185V520Q450 530 430 520V192L372 218Q352 228 350 255V590Q330 600 312 590Z"/>
<path class="t" d="M330 590V250Q335 222 362 205L430 172M450 520V172"/>
</g>
</g>
<!-- 40_axles.svg -->
<g class="d" id="axles">
<!-- axle 8 right segment (real coords) -->
<path class="b" d="M455 377L593.1 296.8"/>
<path class="t" d="M466.2 377.1L602.3 299.5M467.8 379.7L602.3 303.7"/>
<path class="b" d="M443.7 405L602.3 315.4"/>
<ellipse cx="584.4" cy="318.3" rx="1.6" ry="2.2" transform="rotate(30 584.4 318.3)"/>
<!-- axle 8 left segment -->
<path class="b" d="M270.5 483.5L405 406.5"/>
<path class="t" d="M275.5 487L405 412.5M262 496L403 420"/>
<path class="b" d="M249.1 517.2L404 428"/>
<!-- axle 7 -->
<path class="b" d="M393 554.8L523.3 479.5M582.8 444.6L714 368.6"/>
<path class="t" d="M405 556L527.5 483.7M410 560L534 487M588.6 448.8L722 372.5M590.3 452.2L722 377"/>
<path class="b" d="M395 575.3L723 387"/>
<!-- axle7 tread -->
<path class="k" d="M522.7 473.8L576.4 443.1Q584 443.3 588.7 449.5L531.5 479.8Z"/>
<path class="w" d="M531.5 479.8L536.1 485.3L589.6 455.3Q590.4 451.5 588.7 449.5Z"/>
<path class="t" d="M533.8 482.6L589.3 452.4"/>
<ellipse cx="291.4" cy="487.3" rx="1.6" ry="2.3" transform="rotate(30 291.4 487.3)"/>
</g>
<!-- 41_hub1.svg -->
<g class="d" id="hub1">
<!-- view N: offset 195,460 scale 7.95 -->
<g transform="translate(195 460) scale(.12579)">
<!-- brake flange plate -->
<path class="w" d="M335 205L370 185L470 262L466 400L430 452L395 420Z"/>
<path class="t" d="M345 215L455 290L452 410"/>
<circle class="k" cx="358" cy="200" r="7"/><circle class="k" cx="455" cy="270" r="7"/><circle class="k" cx="445" cy="325" r="5"/><circle class="k" cx="445" cy="380" r="5"/>
<!-- spring seat -->
<path class="w" d="M440 232L530 182L605 225L592 265L545 292L480 290Z"/><ellipse cx="550" cy="232" rx="14" ry="10"/><ellipse class="k" cx="550" cy="232" rx="6" ry="4"/>
<path class="t" d="M480 290L540 262L592 265M545 292L560 280"/>
<!-- hub disc -->
<ellipse class="w" cx="312" cy="349" rx="160" ry="100" transform="rotate(66 312 349)"/>
<ellipse class="w b" cx="300" cy="355" rx="160" ry="100" transform="rotate(66 300 355)"/>
<ellipse class="t" cx="262" cy="385" rx="75" ry="50" transform="rotate(66 262 385)"/>
<!-- spindle cap -->
<path class="w" d="M172 378L252 338Q290 360 275 440L200 472Z"/>
<ellipse class="w" cx="185" cy="425" rx="48" ry="32" transform="rotate(66 185 425)"/>
<path class="t" d="M215 360Q250 380 240 455"/>
<!-- studs -->
<g class="w"><path d="M232 272L268 252Q284 255 280 270L245 290Q228 288 232 272Z"/><path d="M178 328L214 308Q228 310 225 324L190 344Q175 342 178 328Z"/>
<path d="M318 358L356 338Q372 340 368 356L332 375Q316 373 318 358Z"/><path d="M313 463L350 443Q366 445 362 460L327 480Q310 478 313 463Z"/></g>
<!-- plate 11 -->
<path d="M435 580L545 515L665 585L555 660Z"/><path d="M435 580V592L555 673L665 597V585"/>
<g class="t"><circle cx="545" cy="530" r="8"/><circle cx="462" cy="580" r="8"/><circle cx="640" cy="590" r="8"/><circle cx="555" cy="640" r="8"/><ellipse cx="548" cy="582" rx="13" ry="9"/><circle cx="510" cy="560" r="4" class="k"/><circle cx="592" cy="606" r="5"/></g>
</g>
<!-- lug nuts 25 (real coords) -->
<g id="n25"><circle class="w" style="stroke-width:1.5" cx="190" cy="519" r="2.7"/><circle class="t" cx="190" cy="518.8" r="1"/></g>
<use href="#n25" x="6.7" y="-6.7"/><use href="#n25" x="18.3" y="4.3"/><use href="#n25" x="6.7" y="14.3"/><use href="#n25" x="18.3" y="16.7"/>
<!-- nuts 28 near plate 11 -->
<use href="#n25" x="62.3" y="41"/><use href="#n25" x="73.3" y="35"/><use href="#n25" x="84.3" y="41.7"/><use href="#n25" x="74.3" y="48.3"/>
<!-- hub2 lug nuts -->
<use href="#n25" x="123.3" y="66.7"/><use href="#n25" x="134" y="68.3"/><use href="#n25" x="123.3" y="79.3"/><use href="#n25" x="141" y="82.7"/><use href="#n25" x="135" y="89.3"/>
<!-- second plate nuts -->
<use href="#n25" x="185" y="136"/><use href="#n25" x="196" y="130.3"/><use href="#n25" x="206.7" y="136"/><use href="#n25" x="196.7" y="142"/>
<!-- second plate -->
<path d="M371.7 628.3L386 620L401 627.7L386.7 638.3Z"/><path d="M371.7 628.3V630L386.7 640L401 629.3V627.7"/>
<g class="t"><circle cx="386" cy="622.3" r="1"/><circle cx="375.5" cy="628.3" r="1"/><circle cx="397.5" cy="628.3" r="1"/><circle cx="386.7" cy="635.5" r="1"/><ellipse cx="386.3" cy="628.8" rx="1.6" ry="1.1"/></g>
<!-- loose bolt -->
<path d="M374.8 524.3L386.5 518.2Q389 518.5 388.8 521.5L376.5 528.2M372 525L374.3 523.2L376.8 525.3V528.3L374 529.8L372 528Z"/>
</g>
<!-- 42_springs.svg -->
<g class="d" id="springs">
<!-- view M: offset 200,390 scale 5.9625 : spring 1 -->
<g transform="translate(200 390) scale(.16771)">
<path class="w" d="M72 112L125 88Q145 92 140 112L92 140Q68 135 72 112Z"/><ellipse cx="84" cy="127" rx="10" ry="14" class="t"/>
<path d="M140 112Q200 200 320 305Q470 395 625 438"/>
<path d="M92 140Q150 250 280 355Q430 445 560 480L650 492"/><path class="t" d="M100 135Q160 240 290 345Q440 435 580 470M135 215Q190 290 290 362Q420 440 520 470"/>
<path class="t" d="M110 128Q170 225 300 330Q450 420 600 458"/>
<path class="t" d="M130 210L150 225Q200 290 300 365M240 330L250 345M435 460L445 450M500 478L505 468"/>
<circle class="k" cx="378" cy="368" r="4"/>
<path class="w" d="M625 438L690 418Q712 425 705 448L660 488Q640 480 625 438Z"/><path class="t" d="M640 445L668 482"/>
<!-- clip left -->
<path d="M318 185L350 165L435 222L405 245L385 245Z"/><path class="t" d="M325 195L390 238"/><ellipse cx="378" cy="208" rx="9" ry="6" class="t"/>
<path d="M405 245L440 225L435 222"/>
</g>
<!-- view O: offset 310,430 scale 6.814 : spring 2 -->
<g transform="translate(310 430) scale(.14675)">
<path class="w" d="M152 182L215 160Q240 165 236 192L178 222Q150 215 152 182Z"/><ellipse cx="164" cy="202" rx="10" ry="17" class="t"/>
<path d="M238 205Q330 305 450 400Q600 475 785 520"/>
<path d="M178 225Q260 335 400 440Q550 520 700 558L830 572"/><path class="t" d="M188 238Q275 340 410 435Q560 510 720 550M240 310Q310 385 420 452Q560 525 660 552"/>
<path class="t" d="M200 250Q300 345 430 432Q580 500 750 545L820 556"/>
<path class="t" d="M235 305L245 318Q300 385 400 455M410 470L420 460M590 565L596 552M650 577L655 565"/>
<circle class="k" cx="505" cy="460" r="4"/>
<path class="w" d="M785 520L855 497Q885 505 878 535L830 572Q800 565 785 520Z"/><path class="t" d="M800 528L832 566"/>
<!-- clip 10 -->
<path d="M435 255L470 232L580 292L545 318L520 322Z"/><path class="t" d="M445 262L528 312"/><ellipse cx="507" cy="275" rx="10" ry="7" class="t"/><circle class="k" cx="507" cy="275" r="3"/>
<path d="M545 318L585 300L580 292"/>
<!-- bolt -->
<path d="M440 650L535 603Q550 605 548 622L452 672"/><path d="M420 655L433 645L450 652V672L436 682L420 675Z"/>
<!-- bushing -->
<path class="w" d="M782 448L838 415Q858 418 855 438L800 470Q778 468 782 448Z"/><ellipse cx="792" cy="458" rx="9" ry="13" class="t"/>
<!-- nut -->
<circle class="k" cx="897" cy="392" r="14"/><circle class="w t" cx="897" cy="389" r="6"/>
<circle class="k" cx="765" cy="222" r="8"/><circle class="k" cx="765" cy="262" r="8"/><circle class="k" cx="897" cy="150" r="8"/><circle class="k" cx="897" cy="187" r="8"/>
</g>
</g>
<!-- 43_hub2.svg -->
<g class="d" id="hub2">
<!-- view P: offset 325,540 scale 7.95 -->
<g transform="translate(325 540) scale(.12579)">
<!-- rotor -->
<ellipse class="w b" cx="265" cy="265" rx="240" ry="150" transform="rotate(66 265 265)"/>
<path style="stroke-width:3" d="M185 42Q300 40 400 172"/>
<path class="t" d="M200 60Q300 65 385 185"/>
<ellipse class="w" cx="225" cy="290" rx="150" ry="95" transform="rotate(66 225 290)"/>
<path class="t" d="M250 175Q330 230 340 340"/>
<ellipse class="t" cx="222" cy="305" rx="85" ry="55" transform="rotate(66 222 305)"/>
<!-- spindle -->
<path class="w" d="M95 320L180 282Q225 305 205 372L135 402Z"/>
<ellipse class="w" cx="115" cy="358" rx="48" ry="33" transform="rotate(66 115 358)"/>
<path class="t" d="M150 300Q185 325 172 388"/>
<g class="w"><path d="M135 212L165 195Q182 198 178 212L150 228Q132 226 135 212Z"/><path d="M215 225L245 208Q262 211 258 225L230 241Q212 239 215 225Z"/>
<path d="M280 345L310 328Q327 331 323 345L295 361Q277 359 280 345Z"/><path d="M225 397L255 380Q272 383 268 397L240 413Q222 411 225 397Z"/></g>
<!-- caliper -->
<path class="w b" d="M400 172L465 120Q505 120 520 155Q540 250 525 340Q505 430 425 500Q395 505 385 480Q375 350 390 230Z"/>
<path class="t" d="M400 172Q430 185 440 230Q450 350 430 490"/>
<path d="M392 278Q420 270 432 290Q420 310 392 305ZM392 395Q420 385 435 408Q420 430 392 425Z"/>
<path class="t" d="M405 195L470 160M410 210L478 172"/>
<ellipse cx="490" cy="160" rx="14" ry="9" class="t"/>
<!-- bracket behind caliper -->
<path d="M520 150L560 185L600 265L590 360L525 395"/>
<!-- brake line -->
<path style="stroke-width:2.2" d="M712 135Q735 150 720 185Q700 235 610 272"/>
<path class="w" style="stroke-width:.8" d="M712 135Q735 150 720 185Q700 235 610 272" fill="none"/>
<path d="M595 330L625 315L640 350L612 365ZM600 300L585 262L605 255"/>
<path style="stroke-width:2.2" d="M615 365Q615 420 600 440Q560 450 515 425"/>
<ellipse cx="713" cy="138" rx="9" ry="12"/>
</g>
<!-- axle 7 left end cleanup handled in axle paths -->
</g>
<!-- 45_ubolts.svg -->
<g class="d" id="ubolts">
<!-- u-bolts 18: offset 235,320 scale 15.9 -->
<g transform="translate(235 320) scale(.06289)">
<path class="w" d="M258 830V350Q265 280 340 240L420 200Q480 195 482 250V740H420V265L360 292Q322 312 318 360V830Q288 850 258 830Z"/>
<path class="w" d="M430 930V450Q440 385 510 345L590 305Q655 300 658 360V840Q625 860 595 840V372L530 400Q494 420 490 465V930Q460 950 430 930Z"/>
</g>
<!-- middle u-bolts: offset 360,380 scale 11.925 -->
<g transform="translate(360 380) scale(.08386)">
<path class="w" d="M160 775V400Q165 340 240 300L290 290Q320 295 318 330V470H285V335L245 345Q205 365 200 410V775Q180 785 160 775Z"/>
<path class="w" d="M300 860V460Q305 410 370 380L420 365Q455 370 452 400V775Q436 785 420 775V405L382 418Q345 435 340 475V860Z"/>
</g>
</g>
<!-- 50_right_fenders.svg -->
<g class="d" id="right-fenders">
<!-- view S: offset 520,160 scale 4.77 -->
<g transform="translate(520 160) scale(.20964)">
<!-- pad -->
<path d="M165 300L42 240V215L140 148L240 150L275 175"/>
<path class="t" d="M42 222L160 282"/>
<path d="M45 250V280L100 312M42 240L48 250L110 282"/>
<ellipse cx="232" cy="170" rx="12" ry="8"/><ellipse cx="137" cy="222" rx="12" ry="8"/>
<circle class="k" cx="65" cy="265" r="5"/><circle class="k" cx="105" cy="279" r="5"/><circle class="k" cx="185" cy="338" r="4"/>
<!-- near arc left part -->
<path class="b" d="M165 300Q175 240 230 200Q290 165 350 168Q385 170 400 180L420 166"/>
<!-- far edge -->
<path class="b" d="M275 175Q350 120 430 92Q490 78 530 88L555 78"/>
<!-- raised -->
<path d="M555 78L690 160M555 78L415 164L535 235"/><path class="t" d="M548 86L682 166M424 160L540 226"/>
<path class="t" d="M690 160L540 232M692 168L538 242"/>
<path class="b" d="M698 176L546 250"/>
<path d="M540 232Q525 240 530 252L546 250"/>
<!-- near arc right part -->
<path class="b" d="M546 250Q610 315 660 400Q705 500 726 598"/>
<path class="t" d="M556 246Q620 305 672 392Q718 490 738 592"/>
<!-- far edge right -->
<path class="b" d="M698 176Q770 245 830 340Q880 430 892 470"/><path class="t" d="M690 182Q762 250 822 345Q870 432 882 472"/>
<!-- u-bolt left -->
<path d="M215 430V300Q220 265 255 258L275 257Q290 262 288 285V365M228 430V305Q232 280 258 272L275 270V360"/>
<path d="M180 418L262 380L320 400L300 440L215 445Z"/><ellipse cx="220" cy="437" rx="14" ry="7" class="w"/>
<circle cx="150" cy="415" r="11"/><circle cx="150" cy="413" r="5" class="k"/>
</g>
<!-- view T: offset 670,230 scale 4.77 -->
<g transform="translate(670 230) scale(.20964)">
<path class="b" d="M16 270Q35 228 90 190Q160 155 220 158Q245 162 255 172L275 156"/>
<path class="b" d="M165 140Q240 95 320 78Q385 72 410 72"/>
<path d="M410 72L545 150M410 72L270 158L395 228"/><path class="t" d="M403 80L537 156M279 154L400 220"/>
<path class="t" d="M545 150L395 228M548 158L393 238"/>
<path class="b" d="M552 168L402 246"/>
<path d="M395 228Q382 236 386 248L402 246"/>
<path class="b" d="M402 246Q470 330 530 430Q570 525 590 605"/>
<path class="t" d="M412 242Q482 322 542 422Q583 520 602 598"/>
<path class="b" d="M552 168Q625 240 690 340Q745 445 765 512"/><path class="t" d="M544 174Q617 246 681 345Q735 448 755 517"/>
<!-- u-bolt right -->
<path d="M390 600V475Q395 445 425 438L445 435Q460 440 458 460V548M403 600V480Q407 458 430 452L445 450V545"/>
<ellipse cx="398" cy="610" rx="16" ry="8" class="w"/>
<!-- tab -->
<path d="M150 496L200 470Q220 470 225 482L175 510Q155 510 150 496Z"/><ellipse cx="190" cy="485" rx="7" ry="5" class="t"/><ellipse cx="168" cy="497" rx="6" ry="4" class="t"/>
</g>
<!-- foot pad 12: offset 760,310 scale 7.95 -->
<g transform="translate(760 310) scale(.12579)">
<path class="w" d="M270 378L545 215L655 293V395L500 490L405 455Z"/>
<path class="w" d="M500 490V580L655 485V395"/>
<path class="t" d="M516 482V570M643 402V492"/>
<path class="b" d="M270 378L545 215"/>
<ellipse cx="587" cy="310" rx="24" ry="15"/><ellipse cx="432" cy="400" rx="24" ry="15"/>
<path class="w b" d="M175 440L270 385L405 460L390 480Q300 512 215 482Q175 462 175 440Z"/>
<circle class="k" cx="280" cy="430" r="9"/><circle class="k" cx="322" cy="470" r="8"/>
<path d="M165 440V490L60 535"/>
<ellipse class="k" cx="552" cy="208" rx="9" ry="14" transform="rotate(-30 552 208)"/>
</g>
<!-- rail band (real coords) -->
<path style="stroke-width:2.2;stroke-dasharray:.75 .6;stroke-linecap:butt" d="M545.0 214.8L793.7 357.2"/>
<path class="t" d="M545.0 213.8L793.7 356.2"/><path class="t" d="M545.0 215.9L793.7 358.3"/>
<path class="t" d="M556.0 224.7L790.0 358.7"/><path class="t" d="M552.0 225.8L786.0 359.8"/>
<path class="t" d="M585.0 254.9L760.0 355.1"/><path d="M585.0 257.5L756.0 355.5"/>
</g>
<!-- 51_right_susp.svg -->
<g class="d" id="right-susp">
<!-- view U: offset 530,225 scale 5.9625 -->
<g transform="translate(530 225) scale(.16771)">
<!-- rail front face bits -->
<path d="M60 18Q75 80 110 120L150 150M70 15L320 140L300 165L240 178L160 150"/>
<circle cx="130" cy="130" r="15"/><circle cx="130" cy="128" r="6" class="k"/>
<ellipse cx="215" cy="150" rx="20" ry="10"/>
<circle class="k" cx="170" cy="35" r="5"/>
<!-- spring 1 -->
<path d="M175 160Q280 250 400 322M185 195Q280 290 372 362"/>
<path class="t" d="M215 180Q300 260 385 318M300 290L345 350M250 265L268 258"/>
<path d="M520 395Q600 440 690 440M470 420Q560 480 680 490L700 470"/>
<path class="t" d="M500 415Q580 455 680 462M400 322Q460 370 520 395M372 362Q420 400 470 420"/>
<!-- seat -->
<path class="w" d="M385 325L470 295L540 322L452 362Z"/><path d="M385 325V345L452 385L540 342V322M452 362V385"/>
<circle cx="468" cy="326" r="14"/><circle cx="468" cy="326" r="7" class="t"/><circle class="k" cx="440" cy="345" r="5"/><circle class="k" cx="500" cy="308" r="5"/>
<path d="M378 335V412M392 345V420"/>
<path d="M440 385V562M456 385V560M498 470V540M512 465V535"/>
<path d="M428 548L515 512L532 530L445 572Z"/><circle class="k" cx="440" cy="578" r="7"/><circle class="k" cx="505" cy="545" r="6"/>
<!-- axle end cap region -->
<path d="M540 322Q570 330 580 352L600 345V400M560 300L600 320"/>
<circle cx="630" cy="365" r="18"/><circle cx="630" cy="365" r="8" class="t"/>
<!-- equalizer -->
<path d="M690 440L710 430L760 520L800 580L850 600Q900 590 940 520L850 480L820 520"/>
<path d="M700 420L850 490M820 520L850 480"/>
<circle cx="688" cy="470" r="16"/><circle cx="688" cy="470" r="7" class="k"/>
<circle cx="752" cy="535" r="19"/><circle cx="752" cy="535" r="8" class="k"/>
<circle cx="855" cy="570" r="16"/><circle cx="855" cy="570" r="7" class="k"/>
<path d="M870 540L940 505Q955 520 945 545L880 580"/>
<ellipse cx="322" cy="557" rx="9" ry="13" transform="rotate(30 322 557)"/>
</g>
</g>
<!-- 52_right_susp2.svg -->
<g class="d" id="right-susp2">
<!-- view Z: offset 650,300 scale 6.814 -->
<g transform="translate(650 300) scale(.14675)">
<!-- equalizer end + nut -->
<circle cx="40" cy="95" r="26"/><circle cx="40" cy="95" r="12" class="b"/>
<path class="w" d="M150 118L232 82Q260 88 255 112L185 160Q145 155 150 118Z"/><ellipse cx="166" cy="140" rx="17" ry="22"/><ellipse cx="166" cy="140" rx="8" ry="11" class="k"/>
<path d="M110 20L150 40L95 130"/>
<!-- spring 2 -->
<path d="M245 105Q340 225 452 335M190 172Q300 292 430 400"/>
<path class="t" d="M215 140Q320 260 440 365M240 215L300 300"/>
<!-- tab -->
<path class="w" d="M332 240L400 200Q430 198 440 212L380 256Q345 258 332 240Z"/><ellipse cx="377" cy="236" rx="12" ry="8" class="t"/><ellipse cx="405" cy="216" rx="10" ry="7" class="t"/>
<!-- seat -->
<path class="w" d="M445 350L500 328L562 368L520 400Z"/><path d="M445 350V372L520 425V400M562 368V385L520 425"/>
<circle cx="515" cy="372" r="12"/><circle cx="515" cy="372" r="5" class="k"/>
<path d="M440 372V470M455 385V462M520 425V620M545 420V600M575 500V590M590 495V585"/>
<!-- spring right part -->
<path class="w" d="M540 420Q620 405 700 438L775 470L760 590Q720 520 640 482Q590 468 545 472Z"/>
<path class="t" d="M545 445Q630 435 720 480"/>
<!-- ubolt -->
<path d="M695 400V200Q705 160 745 150L775 148Q790 155 788 175V300M712 395V205Q718 180 748 170L772 168V295"/>
<ellipse cx="705" cy="405" rx="22" ry="11" class="w"/>
<path d="M620 410L690 380L740 420"/>
<circle cx="790" cy="475" r="17"/><circle cx="790" cy="475" r="8" class="k"/>
<!-- brake line -->
<ellipse cx="388" cy="612" rx="10" ry="14" class="b"/>
<path class="b" d="M400 620Q480 630 560 590L605 572"/>
<path d="M515 620L530 640L548 628M575 590L590 605L600 590"/>
<circle class="k" cx="560" cy="665" r="7"/><circle class="k" cx="560" cy="695" r="7"/>
<path class="b" d="M545 560L600 580"/>
</g>
</g>
<!-- 60_detailE.svg -->
<g class="d" id="detailE">
<!-- view V: offset 690,70 scale 5.9625 -->
<g id="eParts" transform="translate(690 70) scale(.16771)">
<g id="eRow">
<circle class="k" cx="95" cy="262" r="22"/><circle class="w" cx="95" cy="260" r="13"/><circle cx="95" cy="260" r="6" class="t"/>
<ellipse class="b w" cx="162" cy="295" rx="31" ry="46" transform="rotate(25 162 295)"/><ellipse cx="162" cy="296" rx="8" ry="12" transform="rotate(25 162 296)"/>
<path class="w" d="M262 285Q225 265 200 290Q175 330 190 375Q205 392 230 388"/>
<ellipse class="w" cx="248" cy="337" rx="38" ry="53" transform="rotate(25 248 337)"/><ellipse cx="248" cy="340" rx="7" ry="10" class="k"/>
<ellipse class="b w" cx="388" cy="415" rx="42" ry="56" transform="rotate(25 388 415)"/>
<ellipse class="b" cx="402" cy="422" rx="34" ry="48" transform="rotate(25 402 422)"/><ellipse cx="382" cy="412" rx="12" ry="20" transform="rotate(25 382 412)"/>
<ellipse class="b w" cx="490" cy="468" rx="30" ry="45" transform="rotate(25 490 468)"/><ellipse cx="490" cy="469" rx="8" ry="12" transform="rotate(25 490 469)"/>
<path class="w" d="M552 482L640 528L628 558L540 508Q535 490 552 482Z"/><path class="t" d="M598 508L590 530M612 515L604 538"/>
<path class="w" d="M632 535L650 525L665 540L662 562L645 572L630 558Z"/><ellipse cx="648" cy="549" rx="9" ry="13" class="t"/>
</g>
<use href="#eRow" x="233" y="-133"/>
</g>
</g>
<!-- 61_detailF.svg -->
<g class="d" id="detailF">
<!-- view W: offset 450,575 scale 5.021 -->
<g id="fParts" transform="translate(450 575) scale(.19916)">
<!-- bushing 9 -->
<path class="w" d="M340 120L425 68Q455 72 452 100L372 155Q335 150 340 120Z"/><ellipse cx="357" cy="133" rx="15" ry="23" transform="rotate(25 357 133)"/><ellipse class="t" cx="357" cy="133" rx="9" ry="15" transform="rotate(25 357 133)"/>
<!-- nut -->
<path class="w b" d="M545 105L565 92L592 100L598 128L578 145L550 135Z"/><ellipse cx="570" cy="120" rx="13" ry="17" transform="rotate(20 570 120)"/>
<!-- plate 5 rear -->
<path class="w" d="M405 178Q408 152 435 152L560 188L625 220L765 352Q772 395 742 405L610 370L540 335L412 210Z"/>
<path class="t" d="M412 170Q418 160 438 160L560 196L620 228L758 358"/>
<ellipse cx="437" cy="197" rx="11" ry="15" transform="rotate(-30 437 197)"/><ellipse cx="727" cy="362" rx="11" ry="15" transform="rotate(-30 727 362)"/>
<!-- boss tube -->
<path class="w" d="M515 262L565 235Q615 242 616 300L580 325Z"/>
<!-- plate 4 front -->
<path class="w" d="M310 235Q312 208 340 208L460 240L530 275L665 405Q672 450 645 462L520 430L450 395L318 268Z"/>
<path class="t" d="M318 226Q322 214 342 216L460 248L525 282L660 410"/>
<path d="M665 405L675 398Q682 440 655 455L645 462"/>
<ellipse cx="343" cy="252" rx="11" ry="15" transform="rotate(-30 343 252)"/><ellipse cx="630" cy="418" rx="11" ry="15" transform="rotate(-30 630 418)"/>
<ellipse class="b" style="stroke-width:1.8" cx="485" cy="338" rx="38" ry="48" transform="rotate(-25 485 338)"/><ellipse cx="487" cy="340" rx="27" ry="36" transform="rotate(-25 487 340)"/>
<!-- bushing 35 -->
<path class="w" d="M662 200L790 118Q835 122 832 165L712 250Q660 245 662 200Z"/><ellipse cx="688" cy="219" rx="26" ry="36" transform="rotate(25 688 219)"/><ellipse class="t" cx="688" cy="219" rx="15" ry="23" transform="rotate(25 688 219)"/>
<!-- nut 30 -->
<path class="w b" d="M852 85L880 62L915 75L925 112L898 138L858 125Z"/><ellipse cx="882" cy="102" rx="22" ry="27" transform="rotate(20 882 102)"/><ellipse class="t" cx="880" cy="102" rx="13" ry="18" transform="rotate(20 880 102)"/>
<!-- nut 29 -->
<path class="w b" d="M808 288L830 272L858 280L865 310L845 328L815 318Z"/><ellipse cx="833" cy="300" rx="15" ry="19" transform="rotate(20 833 300)"/>
<!-- bolts -->
<path class="w" d="M95 388L210 312Q235 315 232 345L108 425Z"/><path class="t" d="M185 330L200 362"/>
<path class="w" d="M48 395L72 380L100 392L98 425L75 438L50 425Z"/>
<path class="w" d="M215 468L388 372Q418 378 412 415L238 520Z"/><path class="t" d="M328 405L348 448"/>
<path class="w b" d="M160 490L190 468L228 482L232 520L205 545L165 530Z"/>
<path class="w" d="M385 552L500 478Q525 482 520 510L398 590Z"/><path class="t" d="M470 497L485 528"/>
<path class="w" d="M338 560L362 546L388 556L388 590L365 602L340 590Z"/>
<!-- zerk -->
<circle cx="540" cy="572" r="9" class="b"/><circle cx="540" cy="590" r="9"/><path d="M528 580H552"/>
</g>
</g>
<!-- 62_detailG.svg -->
<g class="d" id="detailG">
<!-- view X: offset 680,485 scale 4.77 -->
<g transform="translate(680 485) scale(.20964)">
<!-- clip arc left -->
<path d="M420 30Q270 110 150 300Q70 480 40 625L35 680"/>
<!-- top block -->
<path d="M370 55V125L578 215V187L612 197L785 262V235L820 226V243L890 255Q790 120 570 22L420 30Z"/>
<path class="t" d="M545 28L745 105M612 197V222"/>
<path d="M295 110V180L250 155M270 125L295 140"/>
<!-- u-bolt legs -->
<path d="M295 180L310 560M375 135L385 590M545 212L548 440M615 222L618 410"/>
<!-- perspective lines -->
<path d="M150 300L295 225M95 615L300 500M385 450L545 360M618 315L745 245"/>
<path class="t" d="M160 612L305 530M385 485L548 392M618 350L720 290"/>
<path class="t" d="M200 590L260 560L300 575"/>
<!-- screw 20 -->
<path class="w" d="M440 205V325H470V205"/><ellipse class="w b" cx="455" cy="192" rx="25" ry="13"/><path class="t" d="M440 188L470 196"/>
<ellipse class="w b" cx="455" cy="380" rx="35" ry="20"/><ellipse cx="455" cy="380" rx="15" ry="9"/>
<!-- nuts bottom -->
<path class="w" d="M285 625V655Q345 680 410 655V625M315 668V728Q350 748 385 728V668"/>
<path class="w" d="M552 545L555 595Q590 610 625 590V525"/>
<!-- lower band (behind) -->
<path class="w" d="M400 592Q560 500 650 420L680 440L662 472Q560 560 420 640"/>
<!-- spring band front -->
<path class="w" d="M40 625Q300 565 450 480Q560 395 650 348Q760 325 940 405L935 470Q790 385 690 392Q600 420 480 520Q320 605 38 680Z"/>
<!-- clamp 37 -->
<path class="w b" d="M405 468L440 442Q470 440 480 462L470 480L425 485Z"/><ellipse cx="443" cy="463" rx="14" ry="9"/>
<path class="w" d="M470 455Q500 450 510 520L540 500Q545 440 520 425Z"/>
<ellipse class="w b" cx="505" cy="470" rx="16" ry="34" transform="rotate(-15 505 470)"/><ellipse class="w b" cx="535" cy="458" rx="16" ry="34" transform="rotate(-15 535 458)"/>
<!-- nuts bottom -->
</g>
<!-- view Y: offset 680,590 scale 4.77 : 23, 26 -->
<g transform="translate(680 590) scale(.20964)">
<ellipse class="w b" cx="455" cy="307" rx="35" ry="20"/><ellipse cx="455" cy="305" rx="15" ry="8"/><path class="t" d="M421 312Q455 338 489 312"/>
<path class="w b" d="M427 400L440 385L470 385L485 400V428L458 442L430 430Z"/><ellipse cx="456" cy="399" rx="17" ry="10"/><path class="t" d="M458 442V418"/>
</g>
</g>
<!-- 70_circles.svg -->
<g class="d" id="circles">
<circle cx="305.3" cy="253.6" r="46.3"/>
<circle cx="318.6" cy="407.7" r="50"/>
<circle cx="733.7" cy="397" r="31.8"/>
<g transform="translate(-81.55 185.25) scale(.5)"><use href="#eParts"/></g>
<g transform="translate(46.2 84.95) scale(.5)"><use href="#fParts"/></g>
</g>
<!-- 90_balloons.svg -->
<g class="d">
<circle cx="71.3" cy="99.4" r="14.6"/><path d="M82.6 108.6L101.7 124.0"/>
<circle cx="97.9" cy="75.5" r="14.6"/><path d="M103.9 88.8L120.0 125.0"/>
<circle cx="127.7" cy="84.9" r="14.6"/><path d="M131.2 99.1L136.7 121.7"/>
<circle cx="239.0" cy="69.0" r="12.4"/><path d="M238.0 81.4L236.7 96.7"/>
<circle cx="204.3" cy="195.0" r="14.6"/><path d="M215.9 203.9L228.3 213.3"/>
<circle cx="168.0" cy="211.0" r="12.4"/><path d="M177.2 219.4L233.3 270.7"/>
<circle cx="154.3" cy="247.0" r="14.6"/><path d="M156.2 261.5L158.3 276.7"/>
<circle cx="372.3" cy="136.7" r="14.6"/><path d="M370.4 151.2L368.0 169.3"/>
<circle cx="454.7" cy="177.3" r="14.6"/><path d="M448.2 190.4L442.0 202.7"/>
<circle cx="675.3" cy="89.3" r="14.6"/><path d="M686.6 98.5L702.7 111.7"/>
<circle cx="647.7" cy="151.7" r="12.4"/><path d="M647.9 164.1L648.3 183.3"/>
<circle cx="717.7" cy="158.3" r="14.6"/><path d="M724.2 145.2L729.3 135.0"/>
<circle cx="745.3" cy="176.0" r="14.6"/><path d="M755.2 165.3L767.7 151.7"/>
<circle cx="826.7" cy="173.3" r="14.6"/><path d="M813.3 167.6L799.3 161.7"/>
<circle cx="816.3" cy="265.7" r="14.6"/><path d="M809.2 278.4L802.7 290.0"/>
<circle cx="123.3" cy="301.0" r="14.6"/><path d="M137.4 304.7L155.0 309.3"/>
<circle cx="180.0" cy="331.7" r="14.6"/><path d="M168.2 323.0L157.3 315.0"/>
<circle cx="123.3" cy="361.0" r="14.6"/><path d="M132.0 349.3L138.3 340.7"/>
<circle cx="220.7" cy="350.7" r="14.6"/><path d="M234.9 347.2L253.3 342.7"/>
<circle cx="164.3" cy="514.0" r="14.6"/><path d="M178.6 517.0L188.3 519.0"/>
<circle cx="331.8" cy="500.7" r="14.6"/><path d="M344.7 493.8L358.0 486.7"/>
<circle cx="372.3" cy="336.7" r="12.4"/><path d="M363.3 345.2L353.0 355.0"/>
<circle cx="538.7" cy="391.0" r="12.4"/><path d="M527.9 384.9L503.0 370.7"/>
<circle cx="619.7" cy="378.3" r="12.4"/><path d="M622.8 390.3L631.3 423.3"/>
<circle cx="409.7" cy="485.7" r="14.6"/><path d="M396.8 478.9L386.3 473.3"/>
<circle cx="713.3" cy="509.2" r="14.6"/><path d="M727.4 512.9L771.0 524.3"/>
<circle cx="300.0" cy="548.3" r="14.6"/><path d="M285.7 545.6L265.0 541.7"/>
<circle cx="276.7" cy="594.3" r="14.6"/><path d="M275.5 579.7L274.0 561.7"/>
<circle cx="520.0" cy="568.3" r="12.4"/><path d="M528.8 577.1L540.0 588.3"/>
<circle cx="604.0" cy="561.0" r="14.6"/><path d="M606.7 575.4L610.7 597.3"/>
<circle cx="656.7" cy="570.0" r="14.6"/><path d="M645.5 579.4L631.7 591.0"/>
<circle cx="651.7" cy="637.7" r="14.6"/><path d="M637.2 636.1L621.7 634.3"/>
<circle cx="639.3" cy="666.7" r="12.4"/><path d="M627.9 661.8L600.7 650.0"/>
<circle cx="616.0" cy="681.0" r="12.4"/><path d="M610.6 669.9L601.7 651.7"/>
<circle cx="586.7" cy="693.3" r="14.6"/><path d="M572.2 691.6L558.3 690.0"/>
<circle cx="486.7" cy="708.3" r="14.6"/><path d="M488.2 693.8L489.3 682.3"/>
<circle cx="833.7" cy="629.3" r="14.6"/><path d="M823.4 619.0L791.0 586.7"/>
<circle cx="825.3" cy="665.7" r="14.6"/><path d="M811.1 662.4L782.7 655.7"/>
<circle cx="802.7" cy="704.3" r="14.6"/><path d="M792.5 693.8L780.0 681.0"/>
</g>
<text transform="translate(0 103.7) scale(0.660 1)" font-size="11.9" x="104.4 111.7" fill="#111">39</text>
<text transform="translate(0 79.8) scale(0.660 1)" font-size="11.9" x="144.7 152.0" fill="#111">32</text>
<text transform="translate(0 89.2) scale(0.660 1)" font-size="11.9" x="189.8 197.1" fill="#111">33</text>
<text transform="translate(0 73.3) scale(0.660 1)" font-size="11.9" x="362.1" fill="#111">3</text>
<text transform="translate(0 199.3) scale(0.660 1)" font-size="11.9" x="305.9 313.2" fill="#111">I9</text>
<text transform="translate(0 215.3) scale(0.660 1)" font-size="11.9" x="254.5" fill="#111">I</text>
<text transform="translate(0 251.3) scale(0.660 1)" font-size="11.9" x="230.2 237.4" fill="#111">3I</text>
<text transform="translate(0 141.0) scale(0.660 1)" font-size="11.9" x="560.5 567.7" fill="#111">I3</text>
<text transform="translate(0 181.6) scale(0.660 1)" font-size="11.9" x="685.3 692.6" fill="#111">I7</text>
<text transform="translate(0 93.6) scale(0.660 1)" font-size="11.9" x="1019.5 1026.8" fill="#111">27</text>
<text transform="translate(0 156.0) scale(0.660 1)" font-size="11.9" x="981.4" fill="#111">2</text>
<text transform="translate(0 162.6) scale(0.660 1)" font-size="11.9" x="1083.8 1091.1" fill="#111">34</text>
<text transform="translate(0 180.3) scale(0.660 1)" font-size="11.9" x="1125.6 1132.9" fill="#111">22</text>
<text transform="translate(0 177.6) scale(0.660 1)" font-size="11.9" x="1248.9 1256.2" fill="#111">I6</text>
<text transform="translate(0 270.0) scale(0.660 1)" font-size="11.9" x="1233.2 1240.5" fill="#111">I2</text>
<text transform="translate(0 305.3) scale(0.660 1)" font-size="11.9" x="183.2 190.5" fill="#111">2I</text>
<text transform="translate(0 336.0) scale(0.660 1)" font-size="11.9" x="269.1 276.4" fill="#111">24</text>
<text transform="translate(0 365.3) scale(0.660 1)" font-size="11.9" x="183.2 190.5" fill="#111">I4</text>
<text transform="translate(0 355.0) scale(0.660 1)" font-size="11.9" x="330.8 338.0" fill="#111">I8</text>
<text transform="translate(0 518.3) scale(0.660 1)" font-size="11.9" x="245.3 252.6" fill="#111">25</text>
<text transform="translate(0 505.0) scale(0.660 1)" font-size="11.9" x="499.1 506.4" fill="#111">38</text>
<text transform="translate(0 341.0) scale(0.660 1)" font-size="11.9" x="564.1" fill="#111">6</text>
<text transform="translate(0 395.3) scale(0.660 1)" font-size="11.9" x="816.2" fill="#111">8</text>
<text transform="translate(0 382.6) scale(0.660 1)" font-size="11.9" x="938.9" fill="#111">7</text>
<text transform="translate(0 490.0) scale(0.660 1)" font-size="11.9" x="617.1 624.4" fill="#111">I0</text>
<text transform="translate(0 513.5) scale(0.660 1)" font-size="11.9" x="1077.1 1084.4" fill="#111">20</text>
<text transform="translate(0 552.6) scale(0.660 1)" font-size="11.9" x="450.9 458.2" fill="#111">II</text>
<text transform="translate(0 598.6) scale(0.660 1)" font-size="11.9" x="415.6 422.9" fill="#111">28</text>
<text transform="translate(0 572.6) scale(0.660 1)" font-size="11.9" x="787.9" fill="#111">9</text>
<text transform="translate(0 565.3) scale(0.660 1)" font-size="11.9" x="911.5 918.8" fill="#111">35</text>
<text transform="translate(0 574.3) scale(0.660 1)" font-size="11.9" x="991.4 998.6" fill="#111">30</text>
<text transform="translate(0 642.0) scale(0.660 1)" font-size="11.9" x="983.8 991.1" fill="#111">29</text>
<text transform="translate(0 671.0) scale(0.660 1)" font-size="11.9" x="968.6" fill="#111">5</text>
<text transform="translate(0 685.3) scale(0.660 1)" font-size="11.9" x="933.3" fill="#111">4</text>
<text transform="translate(0 697.6) scale(0.660 1)" font-size="11.9" x="885.3 892.6" fill="#111">36</text>
<text transform="translate(0 712.6) scale(0.660 1)" font-size="11.9" x="733.8 741.1" fill="#111">I5</text>
<text transform="translate(0 633.6) scale(0.660 1)" font-size="11.9" x="1259.5 1266.8" fill="#111">37</text>
<text transform="translate(0 670.0) scale(0.660 1)" font-size="11.9" x="1246.8 1254.1" fill="#111">23</text>
<text transform="translate(0 708.6) scale(0.660 1)" font-size="11.9" x="1212.6 1219.8" fill="#111">26</text>
<text transform="translate(0 179.3) scale(0.610 1)" font-size="15.9" x="138.4 151.8 165.1 191.7 205.0 218.3 231.6 244.9 258.2 298.2" fill="#111">SEEDETAILE</text>
<text transform="translate(0 398.3) scale(0.610 1)" font-size="15.9" x="143.9 157.2 170.5 197.1 210.4 223.7 237.0 250.3 263.7 303.6" fill="#111">SEEDETAILF</text>
<text transform="translate(0 444.0) scale(0.610 1)" font-size="15.9" x="1301.2 1314.5 1327.9 1354.5 1367.8 1381.1 1394.4 1407.7 1421.0 1461.0" fill="#111">SEEDETAILG</text>
<text transform="translate(0 217.7) scale(0.610 1)" font-size="15.9" x="1273.9 1287.2 1300.5 1313.8 1327.1 1340.4 1380.3" fill="#111">DETAILE</text>
<text transform="translate(0 232.7) scale(0.610 1)" font-size="15.9" x="1273.9 1287.2 1300.5 1313.8 1327.1 1367.0 1380.3 1393.7 1407.0 1420.3" fill="#111">SCALE0.I20</text>
<text transform="translate(0 519.2) scale(0.610 1)" font-size="15.9" x="870.9 884.2 897.5 910.8 924.1 937.5 977.4" fill="#111">DETAILF</text>
<text transform="translate(0 534.3) scale(0.610 1)" font-size="15.9" x="870.9 884.2 897.5 910.8 924.1 964.1 977.4 990.7 1004.0 1017.3" fill="#111">SCALE0.I20</text>
<text transform="translate(0 462.7) scale(0.610 1)" font-size="15.9" x="1252.0 1265.4 1278.7 1292.0 1305.3 1318.6 1358.5" fill="#111">DETAILG</text>
<text transform="translate(0 478.3) scale(0.610 1)" font-size="15.9" x="1252.0 1265.4 1278.7 1292.0 1305.3 1345.2 1358.5 1371.9 1385.2 1398.5" fill="#111">SCALE0.300</text>
<g class="d">
<path d="M187 174H211.7L270.2 223.5"/><path d="M270.2 223.5L262.8 213.2L259 217.6Z"/>
<path d="M190 392.7H215L269.2 401.1"/><path d="M269.2 401.1L256.8 395.9L256.4 402.4Z"/>
<path d="M789.7 438.4H764.2L752.6 422.4"/><path d="M752.6 422.4L762.3 430.7L757 434.5Z"/>
</g>
</svg>
</body></html>
